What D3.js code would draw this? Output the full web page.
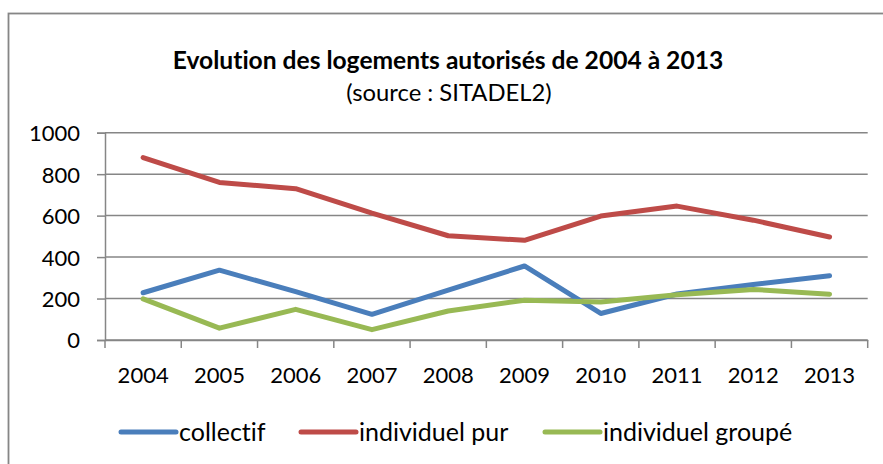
<!DOCTYPE html>
<html>
<head>
<meta charset="utf-8">
<script src="https://cdn.jsdelivr.net/npm/d3@7"></script>
<style>
  body { margin: 0; background: #fff; }
  #chart { width: 883px; height: 464px; }
  text { font-family: Lato, "Open Sans", sans-serif; fill: #000; font-variant-ligatures: none; }
</style>
</head>
<body>
<div id="chart"></div>
<script>
const years = ["2004", "2005", "2006", "2007", "2008", "2009", "2010", "2011", "2012", "2013"];
const collectif = [228, 337, 233, 124, 241, 357, 128, 222, 268, 310];
const individuelPur = [880, 760, 730, 612, 503, 481, 598, 646, 578, 497];
const individuelGroupe = [198, 57, 148, 50, 140, 192, 183, 218, 244, 221];
const yTicks = [0, 200, 400, 600, 800, 1000];

const seriesNames = ["collectif", "individuel pur", "individuel groupé"];
const seriesColors = ["#4a7ebb", "#be4b48", "#98b954"];
const seriesValues = [collectif, individuelPur, individuelGroupe];

function draw() {
  const w = 883, h = 464;
  const svg = d3.select("#chart").append("svg")
    .attr("width", w)
    .attr("height", h);

  // chart frame (right and bottom edges fall outside the picture)
  svg.append("rect")
    .attr("x", 8.5).attr("y", 13.5)
    .attr("width", 900).attr("height", 500)
    .attr("fill", "none")
    .attr("stroke", "#868686")
    .attr("stroke-width", 1.8);

  svg.append("text")
    .attr("x", 448).attr("y", 69)
    .attr("text-anchor", "middle")
    .style("font-weight", "bold")
    .style("font-size", "24.6px")
    .text("Evolution des logements autorisés de 2004 à 2013");

  svg.append("text")
    .attr("x", 449).attr("y", 101)
    .attr("text-anchor", "middle")
    .style("font-size", "23.8px")
    .text("(source : SITADEL2)");

  const left = 105, right = 867.7, top = 132.7, bottom = 340;

  const x = d3.scaleBand().domain(years).range([left, right]);
  const y = d3.scaleLinear().domain([0, 1000]).range([bottom, top]);

  // gridlines
  svg.append("g")
    .selectAll("line")
    .data(yTicks)
    .join("line")
    .attr("x1", left).attr("x2", right)
    .attr("y1", d => y(d)).attr("y2", d => y(d))
    .attr("stroke", "#868686")
    .attr("stroke-width", 1.5);

  // y axis
  const yAxis = svg.append("g")
    .attr("transform", `translate(${left},0)`)
    .call(d3.axisLeft(y).tickValues(yTicks).tickFormat(d3.format("d")).tickSize(8).tickPadding(17));
  yAxis.select(".domain").attr("stroke", "#868686").attr("stroke-width", 1.5);
  yAxis.selectAll(".tick line").attr("stroke", "#868686").attr("stroke-width", 1.5);
  yAxis.selectAll("text")
    .style("font-family", "Lato, sans-serif")
    .style("font-size", "22px")
    .attr("dy", "0.36em");

  // x axis
  const xAxis = svg.append("g")
    .attr("transform", `translate(0,${bottom})`)
    .call(d3.axisBottom(x).tickSize(0).tickPadding(27));
  xAxis.select(".domain").attr("stroke", "#868686").attr("stroke-width", 1.5);
  xAxis.selectAll("text")
    .style("font-family", "Lato, sans-serif")
    .style("font-size", "22px");

  const bounds = years.map(d => x(d)).concat([x.range()[1]]);
  svg.append("g")
    .selectAll("line")
    .data(bounds)
    .join("line")
    .attr("x1", d => d).attr("x2", d => d)
    .attr("y1", bottom).attr("y2", bottom + 8)
    .attr("stroke", "#868686")
    .attr("stroke-width", 1.5);

  // lines
  const line = d3.line()
    .x((d, i) => x(years[i]) + x.bandwidth() / 2)
    .y(d => y(d));

  svg.append("g")
    .selectAll("path")
    .data(seriesValues)
    .join("path")
    .attr("d", d => line(d))
    .attr("fill", "none")
    .attr("stroke", (d, i) => seriesColors[i])
    .attr("stroke-width", 5)
    .attr("stroke-linejoin", "round")
    .attr("stroke-linecap", "round");

  // legend
  const legendX = [121, 301, 545];
  const legendY = 432;
  const lg = svg.append("g")
    .selectAll("g")
    .data(seriesNames)
    .join("g")
    .attr("transform", (d, i) => `translate(${legendX[i]},${legendY})`);
  lg.append("line")
    .attr("x1", 0).attr("x2", 55)
    .attr("stroke", (d, i) => seriesColors[i])
    .attr("stroke-width", 5)
    .attr("stroke-linecap", "round");
  lg.append("text")
    .attr("x", 58)
    .attr("dy", "0.35em")
    .style("font-size", "25px")
    .text(d => d);
}

draw();
</script>
</body>
</html>
